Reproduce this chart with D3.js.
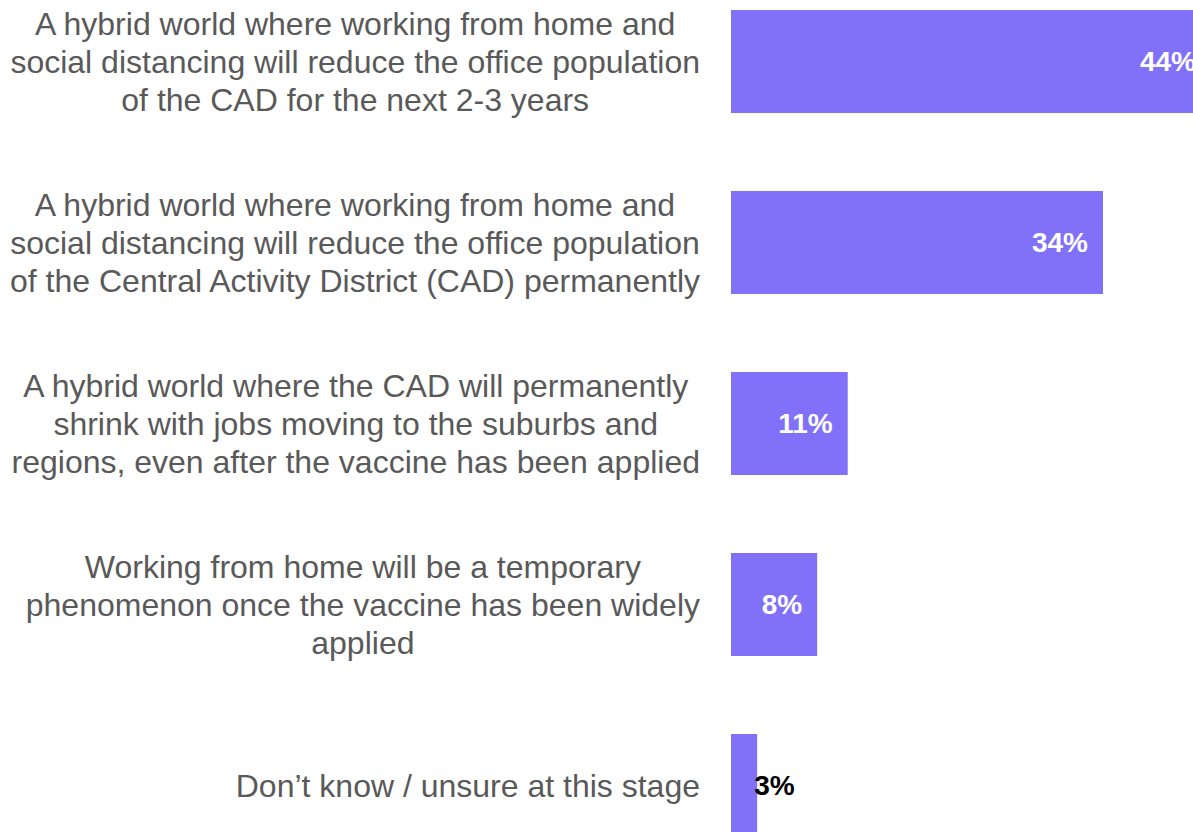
<!DOCTYPE html>
<html>
<head>
<meta charset="utf-8">
<script src="https://cdn.jsdelivr.net/npm/d3@7"></script>
<style>
  body { margin: 0; background: #fff; }
  svg { display: block; font-family: Arial, "Liberation Sans", sans-serif; }
</style>
</head>
<body>
<svg width="1193" height="832"></svg>
<script>
var svg = d3.select('svg');

var width = +svg.attr('width');
var height = +svg.attr('height');

const bar_color = "#8171f8";
const text_color = "#595959";

// catégories (une ligne par élément)
const categories = [
	["A hybrid world where working from home and",
	 "social distancing will reduce the office population",
	 "of the CAD for the next 2-3 years"],
	["A hybrid world where working from home and",
	 "social distancing will reduce the office population",
	 "of the Central Activity District (CAD) permanently"],
	["A hybrid world where the CAD will permanently",
	 "shrink with jobs moving to the suburbs and",
	 "regions, even after the vaccine has been applied"],
	["Working from home will be a temporary",
	 "phenomenon once the vaccine has been widely",
	 "applied"],
	["Don\u2019t know / unsure at this stage"]
];
const values = [44.0, 34.1, 10.7, 7.9, 2.4];
const valueLabels = ["44%", "34%", "11%", "8%", "3%"];

const ids = categories.map((c, i) => i);

// échelles
const xScale = d3.scaleLinear()
	.domain([0, 34.1])
	.range([731, 1103]);

const yScale = d3.scaleBand()
	.domain(ids)
	.range([10, 837])
	.paddingInner(0.431)
	.paddingOuter(0);

// barres
svg.selectAll('rect').data(ids)
	.enter().append('rect')
	.attr('x', xScale(0))
	.attr('y', i => yScale(i))
	.attr('width', i => xScale(values[i]) - xScale(0))
	.attr('height', yScale.bandwidth())
	.style('fill', bar_color);

// étiquettes des valeurs
const pad = 15;
svg.selectAll('text.value').data(ids)
	.enter().append('text')
	.attr('class', 'value')
	.attr('y', i => yScale(i) + yScale.bandwidth() / 2)
	.attr('dy', '0.35em')
	.style('font-size', '28px')
	.style('font-weight', 'bold')
	.text(i => valueLabels[i])
	.each(function(i) {
		const t = d3.select(this);
		const w = this.getComputedTextLength();
		const barW = xScale(values[i]) - xScale(0);
		if (barW > w + pad + 4) {
			t.attr('x', xScale(values[i]) - pad).attr('text-anchor', 'end').style('fill', 'white');
		} else {
			t.attr('x', xScale(values[i]) - 3).attr('text-anchor', 'start').style('fill', 'black');
		}
	});

// étiquettes des catégories, centrées dans une boîte alignée à droite
const labelRight = 700;
const lineH = 38;
categories.forEach(function(lines, i) {
	const cy = yScale(i) + yScale.bandwidth() / 2;
	const txt = svg.append('text')
		.attr('text-anchor', 'middle')
		.style('font-size', '32px')
		.style('fill', text_color);
	const spans = lines.map((l, k) => txt.append('tspan')
		.attr('y', cy + (k - (lines.length - 1) / 2) * lineH)
		.attr('dy', '0.35em')
		.text(l));
	const maxW = d3.max(spans, s => s.node().getComputedTextLength());
	spans.forEach(s => s.attr('x', labelRight - maxW / 2));
});
</script>
</body>
</html>
